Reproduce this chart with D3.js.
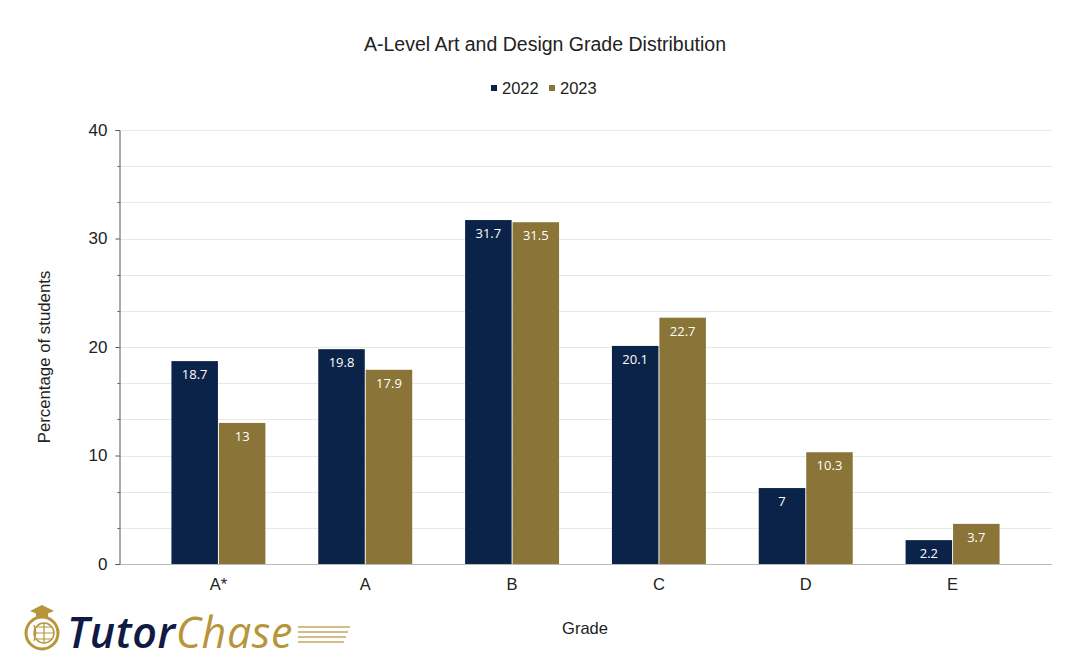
<!DOCTYPE html>
<html>
<head>
<meta charset="utf-8">
<script src="https://cdn.jsdelivr.net/npm/d3@7"></script>
<style>
  body { margin: 0; background: #fff; }
  svg { display: block; font-family: "Liberation Sans", Arial, sans-serif; }
</style>
</head>
<body>
<div id="chart"></div>
<script>
const grades = ["A*", "A", "B", "C", "D", "E"];
const years = ["2022", "2023"];
const values2022 = [18.7, 19.8, 31.7, 20.1, 7, 2.2];
const values2023 = [13, 17.9, 31.5, 22.7, 10.3, 3.7];
const yTicks = [0, 10, 20, 30, 40];
// three minor divisions between each labelled tick
const minorTicks = d3.range(1, 12).map(i => i * 10 / 3).filter(v => Math.abs(v % 10) > 0.01 && Math.abs(v % 10 - 10) > 0.01);

const colors = { "2022": "#0c2349", "2023": "#8a7437" };

const width = 1087, height = 671;
const plot = { left: 119, right: 1052, top: 130, bottom: 564 };

const svg = d3.select("#chart").append("svg")
    .attr("width", width)
    .attr("height", height);

const x = d3.scaleBand()
    .domain(grades)
    .range([145, 1026])
    .paddingInner(0.36)
    .paddingOuter(0.18);

const xInner = d3.scaleBand()
    .domain(years)
    .range([0, x.bandwidth()])
    .paddingInner(0.02);

const y = d3.scaleLinear()
    .domain([0, 40])
    .range([plot.bottom, plot.top]);

// gridlines
svg.append("g")
    .selectAll("line")
    .data(yTicks.concat(minorTicks).filter(d => d > 0))
    .join("line")
    .attr("x1", plot.left)
    .attr("x2", plot.right)
    .attr("y1", d => Math.round(y(d)) + 0.5)
    .attr("y2", d => Math.round(y(d)) + 0.5)
    .attr("stroke", "#e8e8e8")
    .attr("stroke-width", 1);

// bars
const rows = grades.map((g, i) => ({ grade: g, vals: [values2022[i], values2023[i]] }));

const groups = svg.append("g")
    .selectAll("g")
    .data(rows)
    .join("g")
    .attr("transform", d => `translate(${x(d.grade)},0)`);

groups.selectAll("rect")
    .data(d => years.map((yr, j) => ({ year: yr, value: d.vals[j] })))
    .join("rect")
    .attr("x", d => xInner(d.year))
    .attr("y", d => y(d.value))
    .attr("width", xInner.bandwidth())
    .attr("height", d => y(0) - y(d.value))
    .attr("fill", d => colors[d.year]);

groups.selectAll("text")
    .data(d => years.map((yr, j) => ({ year: yr, value: d.vals[j] })))
    .join("text")
    .attr("x", d => xInner(d.year) + xInner.bandwidth() / 2)
    .attr("y", d => y(d.value) + 18)
    .attr("text-anchor", "middle")
    .attr("fill", "#fff")
    .attr("font-family", "'Open Sans', Roboto, sans-serif")
    .attr("font-size", 13)
    .text(d => d.value);

// x axis line
svg.append("line")
    .attr("x1", plot.left)
    .attr("x2", plot.right)
    .attr("y1", plot.bottom + 0.5)
    .attr("y2", plot.bottom + 0.5)
    .attr("stroke", "#b8b8b8");

// x labels
svg.append("g")
    .selectAll("text")
    .data(grades)
    .join("text")
    .attr("x", d => x(d) + x.bandwidth() / 2)
    .attr("y", 590)
    .attr("text-anchor", "middle")
    .attr("font-size", 16.5)
    .attr("fill", "#222")
    .text(d => d);

// y axis
const yAxis = svg.append("g")
    .attr("transform", `translate(${plot.left + 0.5},0)`)
    .call(d3.axisLeft(y).tickValues(yTicks).tickSize(4).tickPadding(8));
yAxis.select(".domain").attr("stroke", "#555");
yAxis.selectAll(".tick line").attr("stroke", "#555");
yAxis.selectAll("text")
    .attr("font-size", 17)
    .attr("font-family", "Liberation Sans, Arial, sans-serif")
    .attr("fill", "#222");

yAxis.selectAll(".minor")
    .data(minorTicks)
    .join("line")
    .attr("class", "minor")
    .attr("x1", -2)
    .attr("x2", 0)
    .attr("y1", d => Math.round(y(d)) + 0.5)
    .attr("y2", d => Math.round(y(d)) + 0.5)
    .attr("stroke", "#555");

// titles
svg.append("text")
    .attr("x", 545)
    .attr("y", 51)
    .attr("text-anchor", "middle")
    .attr("font-size", 19.5)
    .attr("fill", "#222")
    .text("A-Level Art and Design Grade Distribution");

svg.append("text")
    .attr("transform", "translate(50,357) rotate(-90)")
    .attr("text-anchor", "middle")
    .attr("font-size", 16.8)
    .attr("fill", "#222")
    .text("Percentage of students");

svg.append("text")
    .attr("x", 585)
    .attr("y", 634)
    .attr("text-anchor", "middle")
    .attr("font-size", 16.5)
    .attr("fill", "#222")
    .text("Grade");

// legend
const legend = svg.append("g");
const legendItems = [{ year: "2022", x: 491 }, { year: "2023", x: 549 }];
legendItems.forEach(it => {
    legend.append("rect")
        .attr("x", it.x)
        .attr("y", 85)
        .attr("width", 6)
        .attr("height", 6)
        .attr("fill", colors[it.year]);
    legend.append("text")
        .attr("x", it.x + 11)
        .attr("y", 94)
        .attr("font-size", 16.5)
        .attr("fill", "#222")
        .text(it.year);
});

// logo
const logo = svg.append("g");
const gold = "#b8943a";
logo.append("circle")
    .attr("cx", 42).attr("cy", 633).attr("r", 16)
    .attr("fill", "none").attr("stroke", gold).attr("stroke-width", 3);
logo.append("circle")
    .attr("cx", 44).attr("cy", 633).attr("r", 10)
    .attr("fill", "none").attr("stroke", gold).attr("stroke-width", 1.5);
logo.append("path")
    .attr("d", "M34,625 L36,633 L34,641 M44,623 L44,643 M34,633 L54,633 M36,627 L52,627 M36,639 L52,639")
    .attr("fill", "none").attr("stroke", gold).attr("stroke-width", 1.2);
logo.append("path")
    .attr("d", "M30,611 L42,605 L54,611 L42,616 Z")
    .attr("fill", gold);
logo.append("rect")
    .attr("x", 36).attr("y", 612).attr("width", 12).attr("height", 5)
    .attr("fill", gold);
const brand = logo.append("text")
    .attr("x", 67).attr("y", 648)
    .attr("font-family", "'Open Sans', Lato, sans-serif")
    .attr("font-style", "italic")
    .attr("font-size", 43)
    .attr("letter-spacing", 0.6);
brand.append("tspan").attr("fill", "#111a44").attr("font-weight", 600).text("Tutor");
brand.append("tspan").attr("fill", gold).attr("font-weight", 400).text("Chase");
[627, 632, 637, 642].forEach((yy, i) => {
    logo.append("line")
        .attr("x1", 298).attr("x2", 350 - i * 2)
        .attr("y1", yy).attr("y2", yy)
        .attr("stroke", gold).attr("stroke-width", 1.6)
        .attr("opacity", 0.8);
});
</script>
</body>
</html>
